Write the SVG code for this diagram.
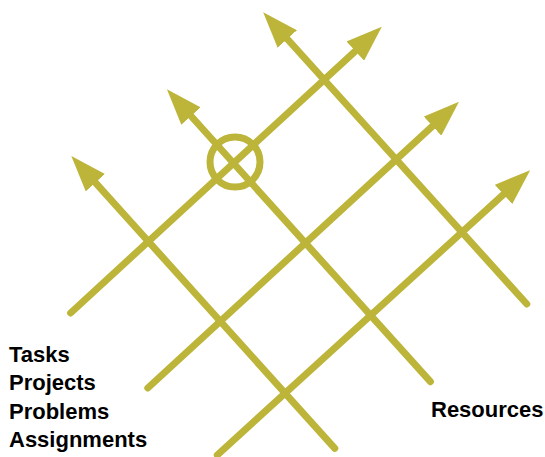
<svg xmlns="http://www.w3.org/2000/svg" width="545" height="457" viewBox="0 0 545 457">
<style>
.ax{stroke:#BDB53A;stroke-width:7;stroke-linecap:round;fill:none}
.lbl{font-family:"Liberation Sans",Arial,sans-serif;font-weight:bold;font-size:22px;fill:#000}
</style>
<defs>
<marker id="head" markerUnits="userSpaceOnUse" viewBox="0 -13 36 26" refX="0" refY="0" markerWidth="36" markerHeight="26" orient="auto">
<path d="M0,-13 L36,0 L0,13 Z" fill="#BDB53A"/>
</marker>
</defs>
<rect width="545" height="457" fill="#fff"/>
<g id="connectors">
<line class="ax" x1="70.6" y1="313" x2="355.3" y2="51.1" marker-end="url(#head)"/>
<line class="ax" x1="147.8" y1="388" x2="432.5" y2="126.1" marker-end="url(#head)"/>
<line class="ax" x1="217.3" y1="455" x2="503.5" y2="194.4" marker-end="url(#head)"/>
<line class="ax" x1="334.8" y1="448.3" x2="95.4" y2="182.7" marker-end="url(#head)"/>
<line class="ax" x1="430.4" y1="381.7" x2="191" y2="116" marker-end="url(#head)"/>
<line class="ax" x1="526.8" y1="304" x2="287.3" y2="39" marker-end="url(#head)"/>
</g>
<g id="focus">
<circle cx="235" cy="162" r="25" fill="none" stroke="#BDB53A" stroke-width="7"/>
</g>
<g id="left-label">
<text class="lbl" x="9" y="362">Tasks</text>
<text class="lbl" x="9" y="390">Projects</text>
<text class="lbl" x="9" y="418.5">Problems</text>
<text class="lbl" x="9" y="446.5">Assignments</text>
</g>
<g id="right-label">
<text class="lbl" x="431" y="417">Resources</text>
</g>
</svg>
